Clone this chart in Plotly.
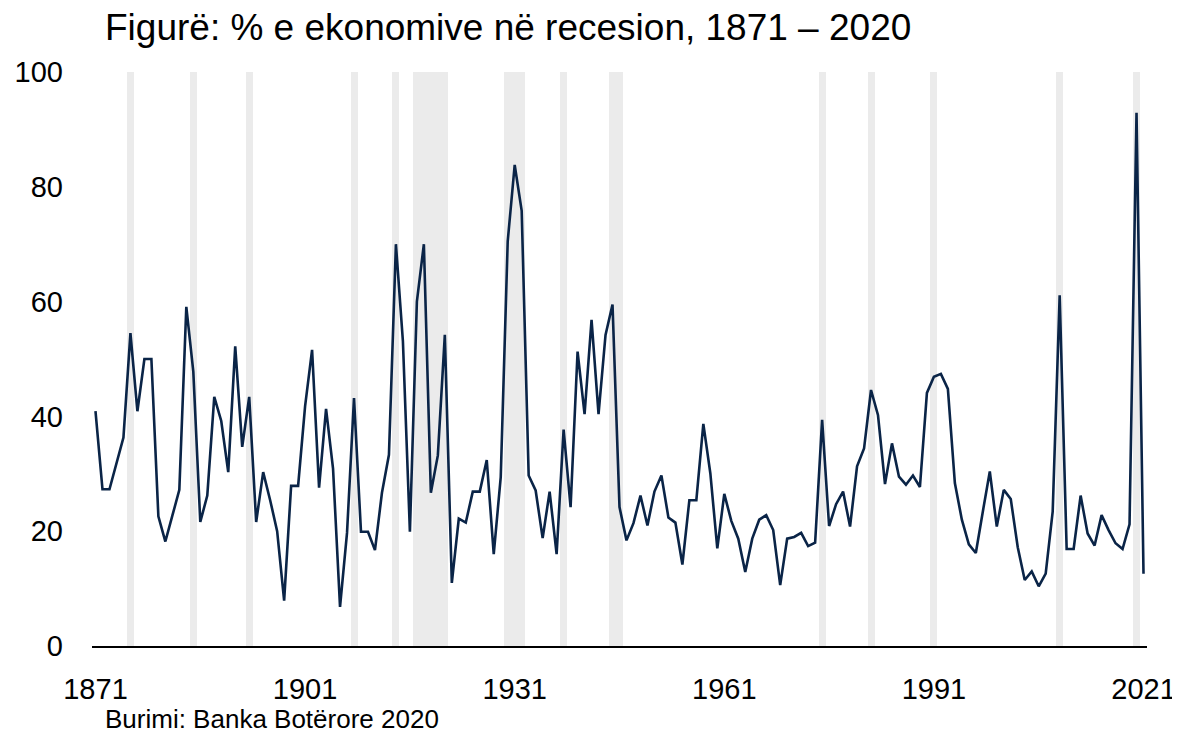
import plotly.graph_objects as go

years = list(range(1871, 2022))
share_in_recession = [
    40.9, 27.3, 27.3, 31.8, 36.3, 54.5, 40.9, 50.0, 50.0, 22.6,  # 1871-1880
    18.2, 22.7, 27.2, 59.1, 47.8, 21.6, 26.2, 43.4, 39.2, 30.3,  # 1881-1890
    52.2, 34.7, 43.4, 21.6, 30.3, 25.4, 20.0, 7.9, 27.9, 27.9,   # 1891-1900
    41.8, 51.6, 27.6, 41.3, 30.9, 6.8, 19.7, 43.2, 19.9, 19.9,   # 1901-1910
    16.7, 26.7, 33.3, 70.0, 53.1, 19.9, 60.0, 70.0, 26.7, 33.2,  # 1911-1920
    54.2, 11.0, 22.2, 21.5, 26.9, 26.9, 32.4, 16.0, 29.4, 70.5,  # 1921-1930
    83.8, 75.8, 29.7, 27.1, 18.8, 26.9, 16.0, 37.7, 24.2, 51.3,  # 1931-1940
    40.4, 56.8, 40.4, 54.2, 59.5, 24.2, 18.4, 21.4, 26.2, 21.0,  # 1941-1950
    26.9, 29.7, 22.4, 21.5, 14.2, 25.4, 25.4, 38.7, 30.1, 17.0,  # 1951-1960
    26.5, 21.8, 18.7, 12.9, 18.7, 22.0, 22.8, 20.2, 10.6, 18.7,  # 1961-1970
    19.0, 19.7, 17.4, 18.0, 39.4, 20.9, 24.7, 26.9, 20.8, 31.3,  # 1971-1980
    34.4, 44.6, 40.2, 28.2, 35.3, 29.5, 28.1, 29.7, 27.7, 44.1,  # 1981-1990
    46.9, 47.4, 44.8, 28.4, 22.0, 17.7, 16.2, 23.4, 30.4, 20.8,  # 1991-2000
    27.2, 25.6, 17.2, 11.5, 13.0, 10.4, 12.6, 23.4, 61.1, 16.9,  # 2001-2010
    16.9, 26.2, 19.6, 17.5, 22.8, 20.2, 17.9, 16.9, 21.2, 92.9,  # 2011-2020
    12.6,                                                         # 2021
]

recession_years = [1876, 1885, 1893, 1908, 1914, 1917, 1918, 1919, 1920, 1921,
                   1930, 1931, 1932, 1938, 1945, 1946, 1975, 1982, 1991, 2009, 2020]
band_height = [100] * len(recession_years)

tick_years = [1871, 1901, 1931, 1961, 1991, 2021]

title_text = "Figurë: % e ekonomive në recesion, 1871 – 2020"
source_text = "Burimi: Banka Botërore 2020"

FONT = "Liberation Sans, Arial, sans-serif"

# page body has an 8px offset; figure is sized so the plot area lands at
# window pixels x 92..1147, y 72..646
OFF = 8
L, R, T, B = 92 - OFF, 33, 72 - OFF, 89
W, H = 1180 - OFF, 735 - OFF
PW, PH = W - L - R, H - T - B

fig = go.Figure()
fig.add_trace(go.Bar(
    x=recession_years, y=band_height, width=1.0,
    marker=dict(color="#EBEBEB", line=dict(width=0)),
    hoverinfo="skip", showlegend=False,
))
fig.add_trace(go.Scatter(
    x=years, y=share_in_recession, mode="lines",
    line=dict(color="#0A2447", width=2.6),
    showlegend=False,
))

fig.update_layout(
    width=W, height=H,
    margin=dict(l=L, r=R, t=T, b=B, autoexpand=False),
    paper_bgcolor="white", plot_bgcolor="white",
    font=dict(family=FONT, color="black", size=29),
    bargap=0,
    annotations=[
        dict(text=title_text, xref="paper", yref="paper",
             x=(103 - 92) / PW, y=(646 - 27) / PH,
             xanchor="left", yanchor="middle", showarrow=False,
             font=dict(size=37, family=FONT, color="black")),
        dict(text=source_text, xref="paper", yref="paper",
             x=(103 - 92) / PW, y=-(719 - 646) / PH,
             xanchor="left", yanchor="middle", showarrow=False,
             font=dict(size=26, family=FONT, color="black")),
    ],
)
fig.update_xaxes(
    range=[1870.5, 2021.5], tickvals=tick_years, ticktext=[str(t) for t in tick_years],
    showgrid=False, zeroline=False, showline=True, linecolor="black", linewidth=1.6,
    ticks="", ticklabelstandoff=16, tickfont=dict(size=29), automargin=False,
)
fig.update_yaxes(
    range=[0, 100], tickvals=[0, 20, 40, 60, 80, 100],
    showgrid=False, zeroline=False, showline=False,
    ticks="", ticklabelstandoff=28, tickfont=dict(size=29), automargin=False,
)

fig.write_html("out.html")
